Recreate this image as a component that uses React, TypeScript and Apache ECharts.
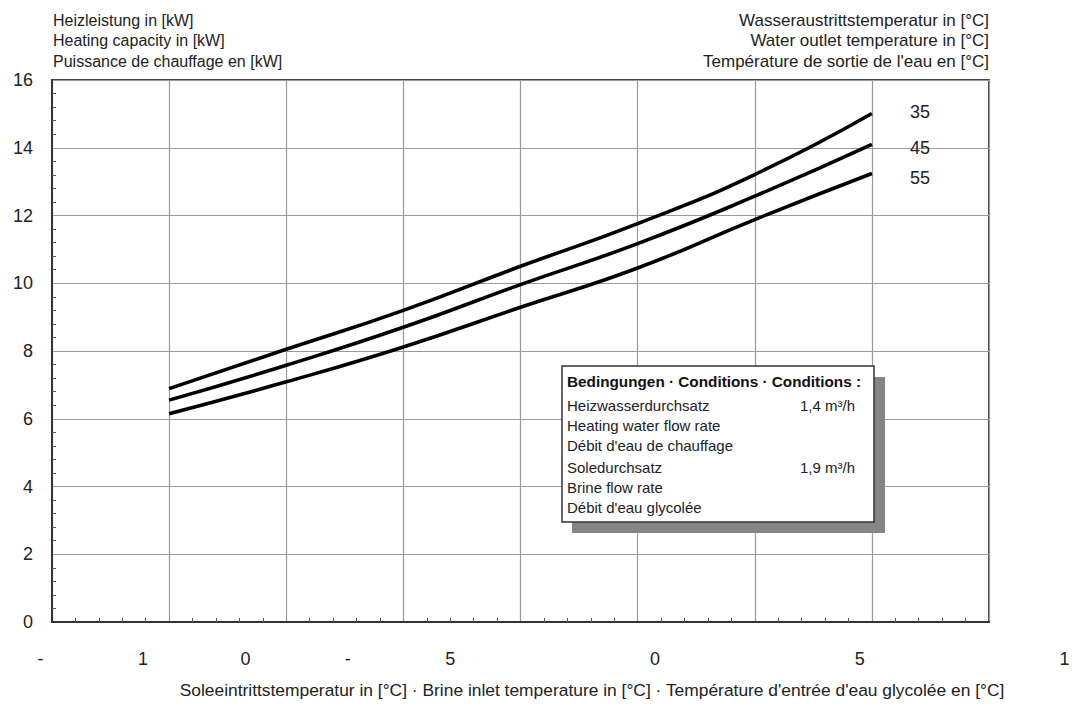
import React, { useEffect, useRef } from "react";
import * as echarts from "echarts";

// Brine inlet temperature [°C] at which capacities are given
const brineTemps = [-5, 0, 5, 10, 15, 20, 25];
// Heating capacity [kW] per water outlet temperature
const cap35 = [6.89, 8.05, 9.2, 10.5, 11.76, 13.21, 15.01];
const cap45 = [6.55, 7.58, 8.7, 9.96, 11.17, 12.57, 14.1];
const cap55 = [6.15, 7.09, 8.12, 9.29, 10.45, 11.88, 13.24];
const outletTemps = ["35", "45", "55"];
// label offsets for the outlet temperature tags at the curve ends
const tagOffsets = [-2, 4, 5];
// tick labels printed under the temperature axis
const xTickLabels = ["-", "1", "0", "-", "5", "", "0", "", "5", "", "1"];

const yTitleLines = ["Heizleistung in [kW]", "Heating capacity in [kW]", "Puissance de chauffage en [kW]"];
const legendTitleLines = [
  "Wasseraustrittstemperatur in [°C]",
  "Water outlet temperature in [°C]",
  "Température de sortie de l'eau en [°C]",
];
const xTitle =
  "Soleeintrittstemperatur in [°C] · Brine inlet temperature in [°C] · Température d'entrée d'eau glycolée en [°C]";
const conditionsTitle = "Bedingungen · Conditions · Conditions :";
const conditionsLines = [
  "Heizwasserdurchsatz",
  "Heating water flow rate",
  "Débit d'eau de chauffage",
  "Soledurchsatz",
  "Brine flow rate",
  "Débit d'eau glycolée",
];
const conditionsValues = ["1,4 m³/h", "", "", "1,9 m³/h", "", ""];

const FONT = "'Liberation Sans', Arial, sans-serif";

export default function App() {
  const ref = useRef<HTMLDivElement>(null);

  useEffect(() => {
    if (!ref.current) return;
    const chart = echarts.init(ref.current, undefined, { renderer: "svg" });

    const capacities = [cap35, cap45, cap55];
    const series = capacities.map((cap, si) => ({
      name: outletTemps[si],
      type: "line",
      xAxisIndex: 0,
      yAxisIndex: 0,
      data: brineTemps.map((t, i) => [t, cap[i]]),
      showSymbol: false,
      smooth: 0.5,
      lineStyle: { color: "#000", width: 3.6 },
      endLabel: {
        show: true,
        formatter: "{a}",
        distance: 38,
        offset: [0, tagOffsets[si]],
        fontSize: 18,
        color: "#222",
        fontFamily: FONT,
      },
      z: 3,
    }));

    const lineY = [405, 425, 445, 467, 487, 507];
    const graphics: any[] = [];
    yTitleLines.forEach((t, i) =>
      graphics.push({
        type: "text",
        x: 53,
        y: 20 + i * 20.5,
        style: { text: t, fontSize: 16, fontFamily: FONT, fill: "#222", align: "left", verticalAlign: "middle" },
      })
    );
    legendTitleLines.forEach((t, i) =>
      graphics.push({
        type: "text",
        x: 989,
        y: 20 + i * 20.5,
        style: { text: t, fontSize: 17, fontFamily: FONT, fill: "#222", align: "right", verticalAlign: "middle" },
      })
    );
    graphics.push({
      type: "text",
      x: 592,
      y: 690,
      style: { text: xTitle, fontSize: 17.4, fontFamily: FONT, fill: "#222", align: "center", verticalAlign: "middle" },
    });
    // conditions box with its drop shadow
    graphics.push({
      type: "rect",
      shape: { x: 572, y: 377, width: 313, height: 156 },
      style: { fill: "#858585" },
      z: 10,
    });
    graphics.push({
      type: "rect",
      shape: { x: 562, y: 366, width: 312, height: 156 },
      style: { fill: "#fff", stroke: "#333", lineWidth: 1.5 },
      z: 11,
    });
    graphics.push({
      type: "text",
      x: 567,
      y: 381,
      z: 12,
      style: {
        text: conditionsTitle,
        fontSize: 15.3,
        fontWeight: "bold",
        fontFamily: FONT,
        fill: "#111",
        align: "left",
        verticalAlign: "middle",
      },
    });
    conditionsLines.forEach((t, i) => {
      graphics.push({
        type: "text",
        x: 567,
        y: lineY[i],
        z: 12,
        style: { text: t, fontSize: 15, fontFamily: FONT, fill: "#222", align: "left", verticalAlign: "middle" },
      });
      if (conditionsValues[i])
        graphics.push({
          type: "text",
          x: 855,
          y: lineY[i],
          z: 12,
          style: {
            text: conditionsValues[i],
            fontSize: 15,
            fontFamily: FONT,
            fill: "#222",
            align: "right",
            verticalAlign: "middle",
          },
        });
    });

    chart.setOption({
      animation: false,
      backgroundColor: "#fff",
      textStyle: { fontFamily: FONT },
      grid: [
        { left: 52, right: 87, top: 80, bottom: 82, show: true, borderColor: "#444", borderWidth: 2 },
        { left: 40.6, right: 11.4, top: 631, height: 1 },
      ],
      xAxis: [
        {
          type: "value",
          gridIndex: 0,
          min: -10,
          max: 30,
          interval: 5,
          axisLabel: { show: false },
          axisLine: { show: true, onZero: false, lineStyle: { color: "#333", width: 2 } },
          axisTick: { show: false, inside: true },
          minorTick: { show: true, splitNumber: 5, length: 4, lineStyle: { color: "#555", width: 1 } },
          splitLine: { show: true, lineStyle: { color: "#9a9a9a", width: 1.2 } },
        },
        {
          type: "category",
          gridIndex: 1,
          data: xTickLabels,
          boundaryGap: false,
          axisLine: { show: false },
          axisTick: { show: false },
          axisLabel: { interval: 0, fontSize: 18, color: "#222", margin: 18, fontFamily: FONT },
        },
      ],
      yAxis: [
        {
          type: "value",
          gridIndex: 0,
          min: 0,
          max: 16,
          interval: 2,
          axisLabel: { fontSize: 18, color: "#222", margin: 19, fontFamily: FONT },
          axisLine: { show: true, onZero: false, lineStyle: { color: "#333", width: 2 } },
          axisTick: { show: false, inside: true },
          minorTick: { show: true, splitNumber: 5, length: 4, lineStyle: { color: "#555", width: 1 } },
          splitLine: { show: true, lineStyle: { color: "#9a9a9a", width: 1.2 } },
        },
        { type: "value", gridIndex: 1, show: false },
      ],
      series,
      graphic: { elements: graphics },
    });

    return () => chart.dispose();
  }, []);

  return (
    <div
      ref={ref}
      style={{ position: "fixed", left: 0, top: 0, width: 1076, height: 704, background: "#fff" }}
    />
  );
}
